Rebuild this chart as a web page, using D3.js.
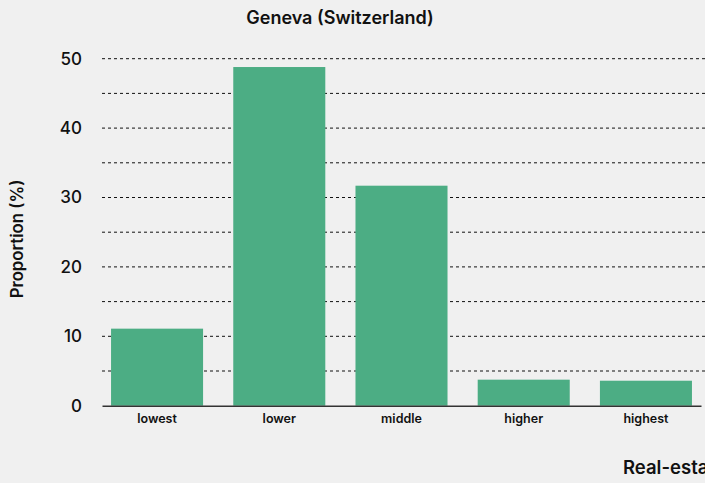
<!DOCTYPE html>
<html>
<head>
<meta charset="utf-8">
<script src="https://cdn.jsdelivr.net/npm/d3@7"></script>
<style>
  html, body { margin: 0; padding: 0; background: #f0f0f0; }
  svg { display: block; font-family: Inter, "Liberation Sans", Arial, sans-serif; }
</style>
</head>
<body>
<svg id="chart" width="705" height="483"></svg>
<script>
const categories = ["lowest", "lower", "middle", "higher", "highest"];
const values = [11.1, 48.8, 31.7, 3.75, 3.6];
const yTicks = [0, 10, 20, 30, 40, 50];
const gridTicks = [5, 10, 15, 20, 25, 30, 35, 40, 45, 50];
const title = "Geneva (Switzerland)";
const yTitle = "Proportion (%)";
const xTitle = "Real-estate price category";

const FONT = "Inter, 'Liberation Sans', Arial, sans-serif";
const svg = d3.select("#chart");
const W = 705, H = 483;
svg.append("rect").attr("width", W).attr("height", H).attr("fill", "#f0f0f0");

const x = d3.scaleBand().domain(categories).range([102, 701])
  .paddingInner(0.247).paddingOuter(0.074);
const y = d3.scaleLinear().domain([0, 50]).range([405.7, 58.7]);

// gridlines
svg.append("g").selectAll("line").data(gridTicks).join("line")
  .attr("x1", 102).attr("x2", W)
  .attr("y1", d => y(d)).attr("y2", d => y(d))
  .attr("stroke", "#111").attr("stroke-width", 1)
  .attr("stroke-dasharray", "3,3");

// bars
svg.append("g").selectAll("rect").data(values).join("rect")
  .attr("x", (d, i) => x(categories[i]))
  .attr("width", x.bandwidth())
  .attr("y", d => y(d))
  .attr("height", d => y(0) - y(d))
  .attr("fill", "#4cad84");

// x axis
const xAxis = svg.append("g").attr("transform", `translate(0,${y(0)})`)
  .call(d3.axisBottom(x).tickSize(0).tickPadding(8));
xAxis.select(".domain").attr("stroke", "#333").attr("stroke-width", 1.5);
xAxis.selectAll("text").attr("font-size", 12.5).attr("font-weight", 600)
  .attr("fill", "#111").attr("font-family", FONT);

// y axis
const yAxis = svg.append("g").attr("transform", "translate(82,0)")
  .call(d3.axisLeft(y).tickValues(yTicks).tickSize(0).tickPadding(0));
yAxis.select(".domain").remove();
yAxis.selectAll("text").attr("font-size", 17).attr("font-weight", 500).attr("fill", "#111")
  .attr("font-family", FONT);

// title
svg.append("text").attr("x", 340).attr("y", 24).attr("text-anchor", "middle")
  .attr("font-size", 18).attr("font-weight", 600).attr("fill", "#111").text(title);

// y title
svg.append("text").attr("transform", "translate(23,239) rotate(-90)")
  .attr("text-anchor", "middle").attr("font-size", 16.7).attr("font-weight", 600)
  .attr("fill", "#111").text(yTitle);

// x title
svg.append("text").attr("x", 623).attr("y", 474).attr("text-anchor", "start")
  .attr("font-size", 18.5).attr("font-weight", 600).attr("fill", "#111").text(xTitle);
</script>
</body>
</html>
